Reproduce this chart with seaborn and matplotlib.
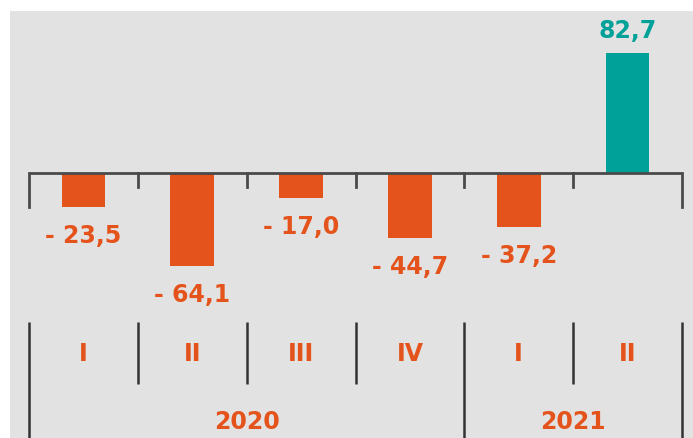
import matplotlib
matplotlib.use("Agg")
import matplotlib.pyplot as plt
from matplotlib.patches import Rectangle
import seaborn as sns
import pandas as pd

# Data
years = ["2020", "2020", "2020", "2020", "2021", "2021"]
quarters = ["I", "II", "III", "IV", "I", "II"]
values = [-23.5, -64.1, -17.0, -44.7, -37.2, 82.7]

ORANGE = "#E5531C"
TEAL = "#00A199"
BG = "#E2E2E2"
FS = 17

W, H = 693, 439
fig = plt.figure(figsize=(W / 100, H / 100), dpi=100, facecolor="white")
fig.patches.append(Rectangle((10 / W, 0), 1, (H - 12) / H, transform=fig.transFigure,
                             facecolor=BG, edgecolor="none", zorder=-10))

ax = fig.add_axes([29 / W, 0, 653 / W, 1])
ax.set_facecolor("none")

SCALE = 1.45
ZERO_PX = 174


def py(p):
    """pixel from top -> data y"""
    return (ZERO_PX - p) / SCALE


keys = [f"{y} {q}" for y, q in zip(years, quarters)]
df = pd.DataFrame({"key": keys, "value": values,
                   "sign": ["pos" if v > 0 else "neg" for v in values]})
sns.barplot(data=df, x="key", y="value", hue="sign", order=keys,
            palette={"pos": TEAL, "neg": ORANGE}, width=0.4, legend=False,
            saturation=1, ax=ax)

ax.set_xlim(-0.5, 5.5)
ax.set_ylim(py(H), py(0))
ax.axis("off")

n = len(values)
# zero axis line and ticks
ax.plot([-0.5, n - 0.5], [0, 0], color="#4a4a4a", lw=2, solid_capstyle="butt", zorder=3, clip_on=False)
for i in range(n + 1):
    x = i - 0.5
    end = 208 if i in (0, n) else 188
    ax.plot([x, x], [0, py(end)], color="#4a4a4a", lw=2, zorder=3, clip_on=False)

# value labels
for i, v in enumerate(values):
    if v < 0:
        txt = "- " + f"{abs(v):.1f}".replace(".", ",")
        ax.text(i, v + py(ZERO_PX + 28), txt, ha="center", va="center", color=ORANGE,
                fontsize=FS, fontweight="bold", family="DejaVu Sans")
    else:
        txt = f"{v:.1f}".replace(".", ",")
        ax.text(i, v - py(ZERO_PX + 23), txt, ha="center", va="center", color=TEAL,
                fontsize=FS, fontweight="bold", family="DejaVu Sans")

# bottom category axis
year_bounds = [0]
for i in range(1, n):
    if years[i] != years[i - 1]:
        year_bounds.append(i)
year_bounds.append(n)

for i in range(n + 1):
    x = i - 0.5
    bottom = H if i in year_bounds else 385
    ax.plot([x, x], [py(323), py(bottom)], color="#333333", lw=1.8, clip_on=False,
            solid_capstyle="butt")

for i, q in enumerate(quarters):
    ax.text(i, py(354), q, ha="center", va="center", color=ORANGE,
            fontsize=FS, fontweight="bold", family="DejaVu Sans")

for a, b in zip(year_bounds[:-1], year_bounds[1:]):
    ax.text((a + b - 1) / 2, py(422), years[a], ha="center", va="center", color=ORANGE,
            fontsize=FS, fontweight="bold", family="DejaVu Sans")

fig.savefig("out.png", dpi=100, facecolor="white")
